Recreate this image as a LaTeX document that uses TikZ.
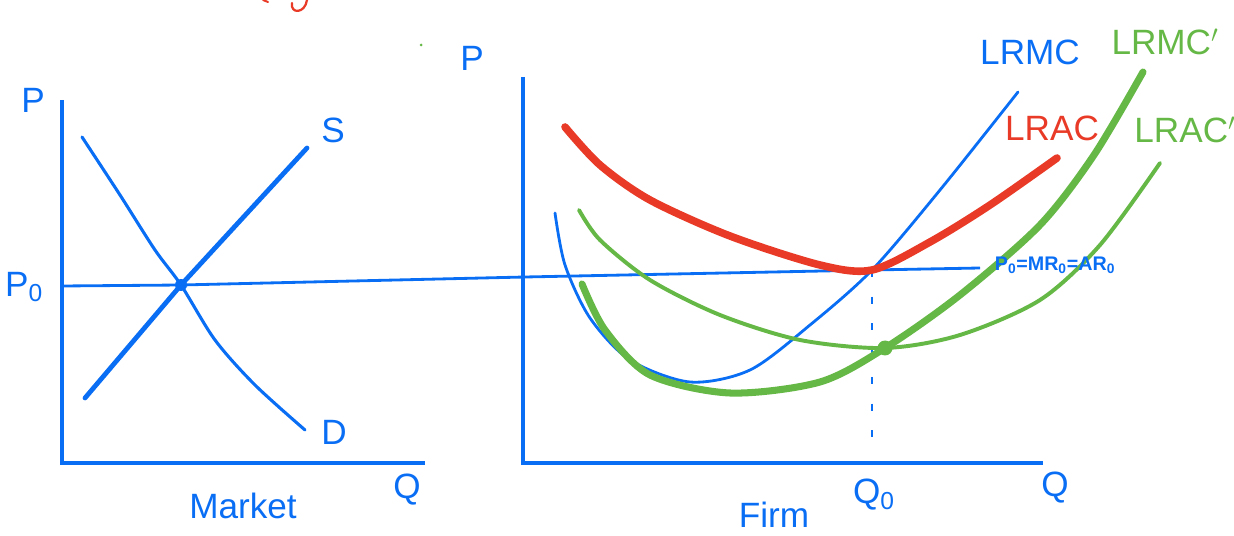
\documentclass[tikz,border=0pt]{standalone}
\usepackage{fontspec}
\setmainfont{Liberation Sans}
\definecolor{penblue}{RGB}{10,110,245}
\definecolor{penred}{RGB}{232,58,38}
\definecolor{pengreen}{RGB}{102,184,70}
\usetikzlibrary{calc, positioning}

\begin{document}
\begin{tikzpicture}[x=0.025cm, y=-0.025cm,
    axis/.style={penblue, line width=2.2pt},
    curve/.style={line width=2.2pt, line cap=round, line join=round},
    lbl/.style={text=penblue, font=\fontsize{25}{27}\selectfont, inner sep=1pt}]
  \useasboundingbox (0,0) rectangle (1234,536);

  % market panel
  \draw[axis] (62,100) -- (62,463) -- (425,463);
  \coordinate (eqm) at (181,285);
  \coordinate (firmeq) at (872,270);
  \draw[penblue, line width=2pt] (eqm) -- (62,286);
  \draw[penblue, line width=2pt] (eqm) -- (525,277) -- (firmeq) -- (980,268);
  \draw[curve, penblue, line width=3.4pt] (85,398) -- (eqm) -- (307,148);
  \draw[curve, penblue] plot[smooth] coordinates
    {(82,137) (120,195) (155,250) (eqm) (215,340) (255,385) (305,430)};
  \fill[penblue] (eqm) circle (6);

  \node[lbl] (pm) at (33,100) {P};
  \node[lbl] (p0) at (24,287) {P\textsubscript{0}};
  \node[lbl] (slab) at (333,130) {S};
  \node[lbl] (dlab) at (334,432) {D};
  \node[lbl] (mkt) at (243,506) {Market};
  \node[lbl] (qm) at (407,490) {Q};

  % firm panel
  \draw[axis] (523,77) -- (523,463) -- (1043,463);
  \draw[penblue, line width=2pt, dash pattern=on 5pt off 14pt] (firmeq) -- (872,445);

  % LRMC
  \draw[curve, penblue, line width=2pt] plot[smooth] coordinates
    {(555,213) (565,265) (590,318) (630,360) (690,382) (750,370)
     (810,325) (firmeq) (940,190) (1018,92)};
  % LRAC
  \draw[curve, penred, line width=5.4pt] plot[smooth] coordinates
    {(565,127) (600,165) (650,200) (730,236) (820,265) (firmeq)
     (930,242) (990,205) (1057,158)};
  % LRAC'
  \draw[curve, pengreen, line width=2.8pt] plot[smooth] coordinates
    {(579,210) (600,240) (650,280) (720,315) (800,340) (885,348)
     (960,335) (1040,300) (1100,245) (1160,163)};
  % LRMC'
  \draw[curve, pengreen, line width=5pt] plot[smooth] coordinates
    {(582,284) (605,330) (650,375) (730,393) (820,382) (885,348)
     (960,295) (1040,225) (1094,155) (1143,72)};
  \fill[pengreen] (885,348) circle (7.5);

  \node[lbl] (pf) at (472,58) {P};
  \node[lbl] (lrmc) at (1030,52) {LRMC};
  \node[lbl, text=pengreen] (lrmcp) at (1165,42) {LRMC$'$};
  \node[lbl, text=penred] (lrac) at (1052,128) {LRAC};
  \node[lbl, text=pengreen] (lracp) at (1185,130) {LRAC$'$};
  \node[lbl, font=\fontsize{14}{16}\selectfont\bfseries] (pmr) at (1055,265)
    {P\textsubscript{0}=MR\textsubscript{0}=AR\textsubscript{0}};
  \node[lbl] (q0) at (874,495) {Q\textsubscript{0}};
  \node[lbl] (qf) at (1055,488) {Q};
  \node[lbl] (firm) at (774,515) {Firm};

  % stray pen marks at the top
  \fill[pengreen] (421,45) circle (1.5);
  \draw[curve, penred, line width=1.4pt] (263,0) -- (268,2);
  \draw[curve, penred, line width=1.6pt] (307,0) .. controls (305,14) and (290,14) .. (292,3);
\end{tikzpicture}
\end{document}
